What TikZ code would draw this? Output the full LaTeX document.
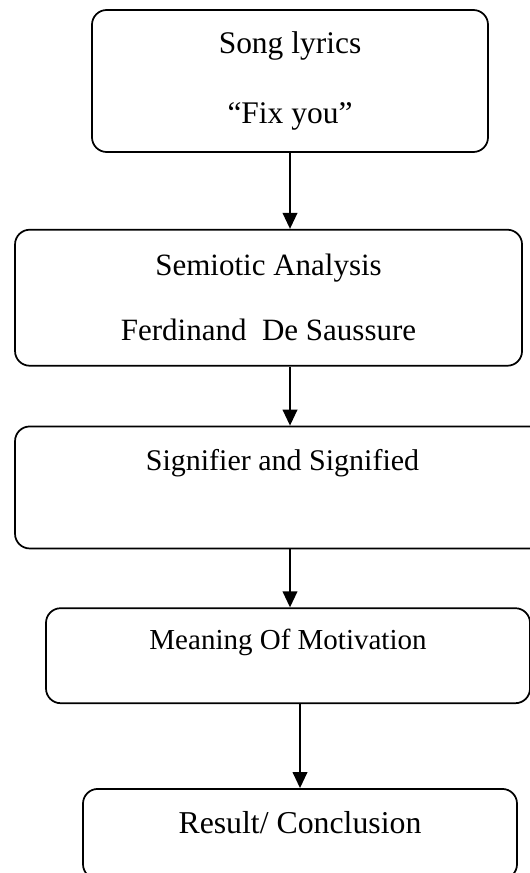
\documentclass[tikz,border=0pt]{standalone}
\usepackage{fontspec}
\setmainfont{Liberation Serif}
\usepackage{tikz}
\usetikzlibrary{positioning, arrows.meta}

\begin{document}
\begin{tikzpicture}[
    box/.style={rectangle, draw, line width=1.3pt, rounded corners=11pt, align=center, inner sep=0pt},
    arrow/.style={-{Triangle[length=12pt, width=11pt]}, line width=1.3pt}
]
    \useasboundingbox (0,0) rectangle (397.5pt,-654.75pt);
    \node[box, minimum width=297pt, minimum height=106.5pt, font={\fontsize{23.6}{52.5}\selectfont}] (lyrics) at (217.5pt,-60.75pt) {Song lyrics\\“Fix you”};
    \node[box, below=57pt of lyrics, xshift=-16.1pt, minimum width=380.25pt, minimum height=102pt, font={\fontsize{23.25}{48.75}\selectfont}] (semiotic) {Semiotic Analysis\\Ferdinand~ De Saussure};
    \node[box, below=44.25pt of semiotic, xshift=10.5pt, minimum width=401.25pt, minimum height=91.5pt, font={\fontsize{22.5}{40.8}\selectfont}] (signifier) {Signifier and Signified\\ \mbox{}};
    \node[box, below=43.5pt of signifier, xshift=4.1pt, minimum width=363pt, minimum height=71.25pt, font={\fontsize{21.75}{25}\selectfont}] (meaning) {Meaning Of Motivation\\ \mbox{}};
    \node[box, below=63pt of meaning, xshift=9pt, minimum width=325.5pt, minimum height=67.5pt, font={\fontsize{23.85}{17}\selectfont}] (result) {Result/ Conclusion\\ \mbox{}};

    \draw[arrow] (lyrics.south) -- (lyrics.south |- semiotic.north);
    \draw[arrow] (semiotic.south -| lyrics.south) -- (lyrics.south |- signifier.north);
    \draw[arrow] (signifier.south -| lyrics.south) -- (lyrics.south |- meaning.north);
    \draw[arrow] (meaning.south -| result.north) -- (result.north);
\end{tikzpicture}
\end{document}
